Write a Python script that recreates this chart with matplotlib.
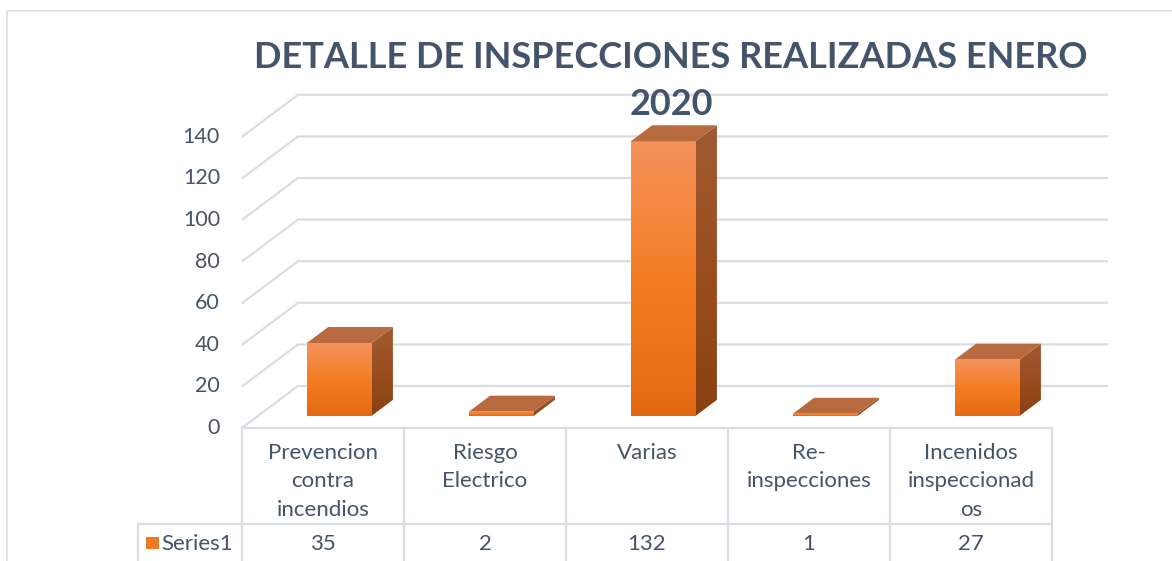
import numpy as np
import matplotlib.pyplot as plt
from matplotlib.patches import Polygon, Rectangle
from matplotlib.lines import Line2D
from matplotlib.colors import LinearSegmentedColormap

categories = ["Prevencion\ncontra\nincendios", "Riesgo\nElectrico", "Varias",
              "Re-\ninspecciones", "Incenidos\ninspeccionad\nos"]
values = [35, 2, 132, 1, 27]
series_name = "Series1"
yticks = [0, 20, 40, 60, 80, 100, 120, 140]
title = "DETALLE DE INSPECCIONES REALIZADAS ENERO\n2020"

plt.rcParams['font.family'] = ['Lato', 'DejaVu Sans']
TXT = '#44546A'
GRID = '#D9DDE3'

W, H = 1172, 561
# pixel calibration of the fake 3d frame
X0, XS = 323, 162      # first category centre, px per category
Y0, YS = 428, 2.08     # value 0 on front plane, px per unit
DX, DY = 56 / XS, 42 / YS   # full depth of the floor
D0, D1 = 0.29, 0.67         # bar depth range
BW = 0.40


def xp(p):
    return (p - X0) / XS


def yp(p):
    return (Y0 - p) / YS


fig = plt.figure(figsize=(W / 100, H / 100), dpi=100)
ax = fig.add_axes([0, 0, 1, 1])
ax.axis('off')

n = len(values)
left, right = -0.5, n - 0.5

# back wall gridlines with the diagonal on the side wall
for v in yticks:
    ax.plot([left, left + DX, right + DX], [v, v + DY, v + DY],
            color=GRID, lw=1.6, zorder=1, solid_capstyle='butt')
    ax.text(xp(220), v, str(v), ha='right', va='center', fontsize=15.5, color=TXT)

front_cm = LinearSegmentedColormap.from_list('f', ['#E36A12', '#F47D24', '#F3935C'])
side_cm = LinearSegmentedColormap.from_list('s', ['#8A4012', '#9A4E20', '#A05A30'])


def grad_poly(pts, cmap, z):
    pts = np.array(pts)
    poly = Polygon(pts, closed=True, facecolor='none', edgecolor='none', zorder=z)
    ax.add_patch(poly)
    g = np.linspace(0, 1, 256).reshape(-1, 1)
    im = ax.imshow(g, extent=(pts[:, 0].min(), pts[:, 0].max(),
                              pts[:, 1].min(), pts[:, 1].max()),
                   origin='lower', cmap=cmap, aspect='auto', zorder=z,
                   interpolation='bilinear')
    im.set_clip_path(poly)


dd = D1 - D0
for i, v in enumerate(values):
    x0 = i - BW / 2 + D0 * DX
    x1 = x0 + BW
    b = D0 * DY
    t = b + v
    grad_poly([(x0, b), (x1, b), (x1, t), (x0, t)], front_cm, 3)
    grad_poly([(x1, b), (x1 + dd * DX, b + dd * DY), (x1 + dd * DX, t + dd * DY), (x1, t)],
              side_cm, 3)
    ax.add_patch(Polygon([(x0, t), (x1, t), (x1 + dd * DX, t + dd * DY), (x0 + dd * DX, t + dd * DY)],
                         closed=True, facecolor='#B86A3F', edgecolor='none', zorder=4))

# data table
r1, r2, r3 = yp(428), yp(524), yp(H + 5)
ax.plot([left, right], [r1, r1], color=GRID, lw=1.6, zorder=2)
ax.plot([xp(138), right], [r2, r2], color=GRID, lw=1.6, zorder=2)
for k in range(n + 1):
    ax.plot([left + k, left + k], [r1, r3], color=GRID, lw=1.6, zorder=2)
ax.plot([xp(138), xp(138)], [r2, r3], color=GRID, lw=1.6, zorder=2)

for i, (c, v) in enumerate(zip(categories, values)):
    ax.text(i, yp(443), c, ha='center', va='top', fontsize=16, color=TXT, linespacing=1.52)
    ax.text(i, yp(544), str(v), ha='center', va='center', fontsize=16, color=TXT)

ax.add_patch(Rectangle((xp(146), yp(549)), 13 / XS, 12 / YS, facecolor='#F07A22',
                       edgecolor='none', zorder=3))
ax.text(xp(161), yp(544), series_name, ha='left', va='center', fontsize=16, color=TXT)

ax.text(xp(671), yp(81), title, ha='center', va='center', fontsize=26,
        fontweight='bold', color=TXT, linespacing=1.55, zorder=5)

ax.set_xlim(xp(0), xp(W))
ax.set_ylim(yp(H), yp(0))

# chart area border
fig.add_artist(Line2D([7 / W, 7 / W, 1], [0, 1 - 11 / H, 1 - 11 / H],
                      transform=fig.transFigure, color=GRID, lw=1.2))

fig.savefig('out.png', dpi=100)
